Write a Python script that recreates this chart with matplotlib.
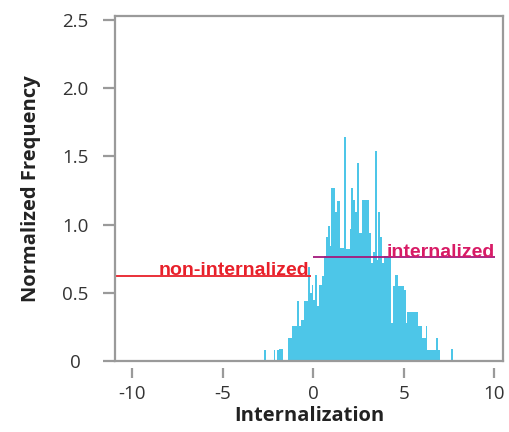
import numpy as np
import matplotlib
matplotlib.use('Agg')
import matplotlib.pyplot as plt

# histogram of internalization scores, 0.1-wide bins starting at -2.8
BIN_START = -2.8
BIN_WIDTH = 0.1
heights = [
    0, 0.08, 0, 0, 0, 0, 0.08, 0, 0.08, 0.09,          # -2.8 .. -1.9
    0.09, 0, 0, 0, 0.17, 0.17, 0.26, 0.26, 0.26, 0.44,  # -1.8 .. -0.9
    0.26, 0.30, 0.30, 0.44, 0.44, 0.69, 0.50, 0.56,     # -0.8 .. -0.1
    0.45, 0.63, 0.40, 0.56, 0.56, 0.62, 0.77, 0.91, 0.99, 0.84,  # 0.0 .. 0.9
    1.27, 1.27, 1.09, 1.17, 1.17, 0.83, 0.83, 1.64, 0.82, 0.82,  # 1.0 .. 1.9
    0.97, 1.27, 1.18, 1.09, 1.45, 0.94, 0.94, 1.18, 1.18, 1.18,  # 2.0 .. 2.9
    1.18, 0.94, 0.72, 0.80, 1.54, 0.74, 1.09, 0.91, 0.72, 0.77,  # 3.0 .. 3.9
    0.77, 0.77, 0.77, 0.28, 0.55, 0.63, 0.63, 0.55, 0.55, 0.55,  # 4.0 .. 4.9
    0.52, 0.28, 0.36, 0.36, 0.36, 0.36, 0.36, 0.36, 0.26, 0.26,  # 5.0 .. 5.9
    0.17, 0.17, 0.26, 0.08, 0.08, 0.08, 0.08, 0.08, 0.17, 0.08,  # 6.0 .. 6.9
    0, 0, 0, 0, 0, 0, 0.09, 0,                                   # 7.0 .. 7.7
]

# gate lines: (x start, x end, level, label)
non_int = (-11.0, -0.12, 0.625, 'non-internalized')
internal = (0.0, 10.05, 0.76, 'internalized')

xticks = [-10, -5, 0, 5, 10]
yticks = [0, 0.5, 1.0, 1.5, 2.0, 2.5]
ytick_labels = ['0', '0.5', '1.0', '1.5', '2.0', '2.5']

BAR = '#4dc6e8'
GRAY = '#9a9a9a'
RED = '#e8202a'
MAGENTA = '#d81b66'
PURPLE = '#a4187c'


def main():
    fig = plt.figure(figsize=(5.09, 4.32), dpi=100)
    ax = fig.add_axes([115 / 509, 71 / 432, 388 / 509, 345 / 432])

    edges = np.round(BIN_START + BIN_WIDTH * np.arange(len(heights) + 1), 2)
    ax.stairs(heights, edges, fill=True, color=BAR, linewidth=0)

    ax.plot(non_int[:2], [non_int[2]] * 2, color=RED, lw=1.3, solid_capstyle='butt')
    ax.plot(internal[:2], [internal[2]] * 2, color=PURPLE, lw=1.3, solid_capstyle='butt')
    txt = dict(fontfamily='Liberation Sans', fontweight='bold', fontsize=14,
               ha='right', va='baseline')
    ax.text(non_int[1] - 0.1, non_int[2] + 0.005, non_int[3], color=RED, **txt)
    ax.text(internal[1], internal[2] + 0.005, internal[3], color=MAGENTA, **txt)

    ax.set_xlim(-10.96, 10.48)
    ax.set_ylim(0, 2.53)

    for side in ['top', 'left', 'right']:
        ax.spines[side].set_color(GRAY)
        ax.spines[side].set_linewidth(1.6)
    # x ticks sit a little below the frame
    ax.spines['bottom'].set_position(('outward', 5))
    ax.spines['bottom'].set_visible(False)
    ax.axhline(0, color=GRAY, lw=1.6, clip_on=False, zorder=3)

    ax.set_xticks(xticks)
    ax.set_xticklabels([str(t) for t in xticks])
    ax.set_yticks(yticks)
    ax.set_yticklabels(ytick_labels)
    ax.tick_params(axis='x', length=7.5, width=1.6, color=GRAY, pad=5,
                   labelsize=13.5, labelcolor='#333333')
    ax.tick_params(axis='y', length=8.5, width=1.6, color=GRAY, pad=20,
                   labelsize=13.5, labelcolor='#333333')
    for lab in ax.get_xticklabels() + ax.get_yticklabels():
        lab.set_fontfamily('Open Sans')
    for lab in ax.get_yticklabels():
        lab.set_horizontalalignment('center')

    ax.set_xlabel('Internalization', fontfamily='Open Sans', fontweight='bold',
                  fontsize=14.5, color='#222222', labelpad=2)
    ax.set_ylabel('Normalized Frequency', fontfamily='Open Sans', fontweight='bold',
                  fontsize=14.5, color='#222222', labelpad=15)

    fig.savefig('out.png', dpi=100)


if __name__ == '__main__':
    main()
